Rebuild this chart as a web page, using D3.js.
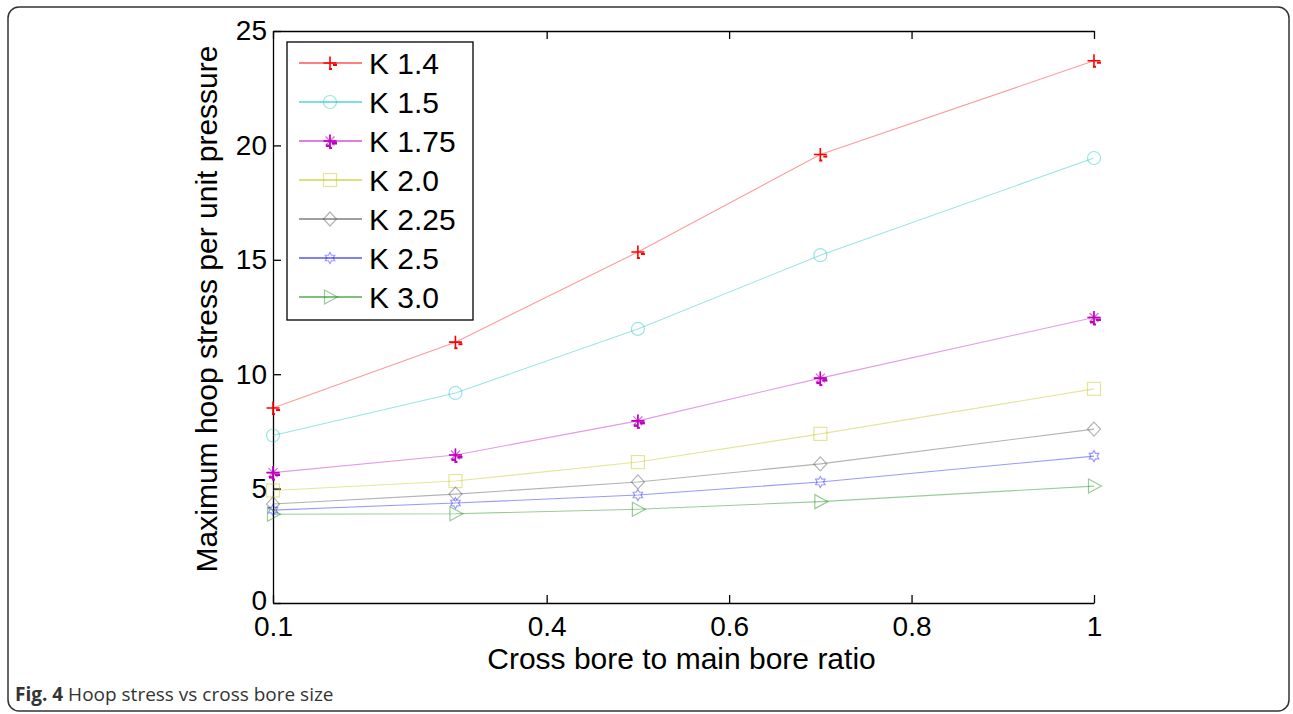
<!DOCTYPE html>
<html><head><meta charset="utf-8">
<script src="https://cdn.jsdelivr.net/npm/d3@7"></script>
<style>html,body{margin:0;padding:0;background:#fff;}svg{display:block;}</style>
</head><body>
<svg id="c" width="1293" height="714"></svg>
<script>
const xValues = [0.1, 0.3, 0.5, 0.7, 1.0];
const k14  = [8.52, 11.4, 15.34, 19.6, 23.7];
const k15  = [7.32, 9.18, 11.98, 15.2, 19.45];
const k175 = [5.7, 6.47, 7.96, 9.83, 12.48];
const k20  = [4.92, 5.33, 6.16, 7.39, 9.36];
const k225 = [4.33, 4.76, 5.29, 6.08, 7.6];
const k25  = [4.06, 4.37, 4.72, 5.29, 6.42];
const k30  = [3.88, 3.9, 4.1, 4.43, 5.11];
const seriesNames = ["K 1.4", "K 1.5", "K 1.75", "K 2.0", "K 2.25", "K 2.5", "K 3.0"];
const xTicks = [0.1, 0.4, 0.6, 0.8, 1];
const xTickLabels = ["0.1", "0.4", "0.6", "0.8", "1"];
const yTicks = [0, 5, 10, 15, 20, 25];
const xLabel = "Cross bore to main bore ratio";
const yLabel = "Maximum hoop stress per unit pressure";
const caption = ["Fig. 4", " Hoop stress vs cross bore size"];

const colors = ["#ff0000", "#00bfbf", "#bf00bf", "#bfbf00", "#404040", "#0000ff", "#008000"];
const markerTypes = ["plus", "circle", "star", "square", "diamond", "hexagram", "triangle"];
const markerOpacity = [1, 0.4, 1, 0.4, 0.4, 0.4, 0.4];
const series = [k14, k15, k175, k20, k225, k25, k30].map((v, i) => ({
  name: seriesNames[i], color: colors[i], marker: markerTypes[i], mop: markerOpacity[i],
  points: v.map((yy, j) => ({x: xValues[j], y: yy}))
}));

const svg = d3.select("#c");
const font = "'Liberation Sans', Arial, Helvetica, sans-serif";

// outer frame
svg.append("rect").attr("x", 8).attr("y", 7).attr("width", 1281).attr("height", 704)
  .attr("rx", 11).attr("fill", "none").attr("stroke", "#333").attr("stroke-width", 1.5);

const PL = 273, PR = 1094, PT = 31, PB = 603;
const x = d3.scaleLinear().domain([0.1, 1]).range([PL, PR]);
const y = d3.scaleLinear().domain([0, 25]).range([PB, PT]);

const g = svg.append("g");
const tl = 8;
const axB = d3.axisBottom(x).tickValues(xTicks).tickFormat((d, i) => xTickLabels[i]).tickSizeInner(-tl).tickSizeOuter(0).tickPadding(13);
const axT = d3.axisTop(x).tickValues(xTicks).tickFormat("").tickSizeInner(-tl).tickSizeOuter(0);
const axL = d3.axisLeft(y).tickValues(yTicks).tickFormat(d3.format("d")).tickSizeInner(-tl).tickSizeOuter(0).tickPadding(6);
const axR = d3.axisRight(y).tickValues(yTicks).tickFormat("").tickSizeInner(-tl).tickSizeOuter(0);

function styleAxis(sel) {
  sel.selectAll("path.domain").attr("stroke", "#000").attr("stroke-width", 1.3);
  sel.selectAll(".tick line").attr("stroke", "#000").attr("stroke-width", 1.3);
  sel.selectAll(".tick text").attr("fill", "#000").style("font-family", font).style("font-size", "28px");
}
styleAxis(g.append("g").attr("transform", `translate(0,${PB})`).call(axB));
styleAxis(g.append("g").attr("transform", `translate(0,${PT})`).call(axT));
const leftAxis = g.append("g").attr("transform", `translate(${PL},0)`).call(axL);
styleAxis(leftAxis);
leftAxis.selectAll(".tick text").filter(d => d === 0).attr("dy", "0.22em");

// axis labels
svg.append("text").attr("x", (PL + PR) / 2 - 2).attr("y", 669).attr("text-anchor", "middle")
  .style("font-family", font).style("font-size", "30px").text(xLabel);
svg.append("text").attr("transform", `translate(217,${(PT + PB) / 2 - 8}) rotate(-90)`).attr("text-anchor", "middle")
  .style("font-family", font).style("font-size", "30px").text(yLabel);

function hexagramPath(r) {
  const pts = [];
  for (let i = 0; i < 12; i++) {
    const a = -Math.PI / 2 + i * Math.PI / 6;
    const rr = i % 2 === 0 ? r : r * 0.58;
    pts.push([rr * Math.cos(a), rr * Math.sin(a)]);
  }
  return "M" + pts.map(p => p.join(",")).join("L") + "Z";
}
function drawMarker(sel, type, color, op) {
  const s = 6.5;
  const common = m => m.attr("fill", "none").attr("stroke", color).attr("stroke-opacity", op).attr("stroke-width", 1.2);
  if (type === "plus") {
    common(sel.append("path").attr("d", `M${-s},0H${s}M0,${-s}V${s}`)).attr("stroke-width", 1.6);
    sel.append("rect").attr("x", 3).attr("y", 1).attr("width", 4).attr("height", 2).attr("fill", color);
    sel.append("rect").attr("x", -1).attr("y", 5).attr("width", 3).attr("height", 2).attr("fill", color);
  } else if (type === "circle") {
    common(sel.append("circle").attr("r", s));
  } else if (type === "star") {
    common(sel.append("path").attr("d", `M${-s},0H${s}M0,${-s}V${s}M${-4.5},${-4.5}L4.5,4.5M${-4.5},4.5L4.5,${-4.5}`)).attr("stroke-width", 1.2).attr("stroke-opacity", 0.6);
    common(sel.append("path").attr("d", `M${-s},0H${s}M0,${-s}V${s}`)).attr("stroke-width", 1.6);
    sel.append("rect").attr("x", 2).attr("y", 1).attr("width", 5).attr("height", 2.5).attr("fill", color);
    sel.append("rect").attr("x", -4).attr("y", 3.5).attr("width", 4).attr("height", 2.5).attr("fill", color);
    sel.append("rect").attr("x", -1).attr("y", 6).attr("width", 3).attr("height", 2).attr("fill", color);
  } else if (type === "square") {
    common(sel.append("rect").attr("x", -s).attr("y", -s).attr("width", 2 * s).attr("height", 2 * s));
  } else if (type === "diamond") {
    common(sel.append("path").attr("d", `M0,${-s - 0.5}L${s},0L0,${s + 0.5}L${-s},0Z`));
  } else if (type === "hexagram") {
    common(sel.append("path").attr("d", hexagramPath(5.5)));
  } else if (type === "triangle") {
    common(sel.append("path").attr("d", `M${-s + 1},${-s - 0.5}L${s + 1},0L${-s + 1},${s + 0.5}Z`));
  }
}

const line = d3.line().x(d => x(d.x)).y(d => y(d.y));
const sg = svg.append("g");
series.forEach(s => {
  sg.append("path").datum(s.points).attr("d", line).attr("fill", "none")
    .attr("stroke", s.color).attr("stroke-opacity", 0.4).attr("stroke-width", 1.1);
});
series.forEach(s => {
  sg.selectAll(null).data(s.points).enter().append("g")
    .attr("transform", d => `translate(${x(d.x)},${y(d.y)})`)
    .each(function() { drawMarker(d3.select(this), s.marker, s.color, s.mop); });
});

// legend
const lg = svg.append("g");
lg.append("rect").attr("x", 287).attr("y", 42).attr("width", 186).attr("height", 278)
  .attr("fill", "#fff").attr("stroke", "#000").attr("stroke-width", 1.3);
series.forEach((s, i) => {
  const cy = 63 + i * 39;
  lg.append("line").attr("x1", 299).attr("x2", 362).attr("y1", cy).attr("y2", cy)
    .attr("stroke", s.color).attr("stroke-width", 1.2);
  drawMarker(lg.append("g").attr("transform", `translate(330,${cy})`), s.marker, s.color, s.mop);
  lg.append("text").attr("x", 369).attr("y", cy).attr("dy", "0.36em")
    .style("font-family", font).style("font-size", "30px").text(s.name);
});

// caption
const cap = svg.append("text").attr("x", 15).attr("y", 701)
  .style("font-family", "'Open Sans', 'Noto Sans', sans-serif").style("font-size", "19px").attr("fill", "#333");
cap.append("tspan").attr("font-weight", "bold").text(caption[0]);
cap.append("tspan").text(caption[1]);
</script>
</body></html>
